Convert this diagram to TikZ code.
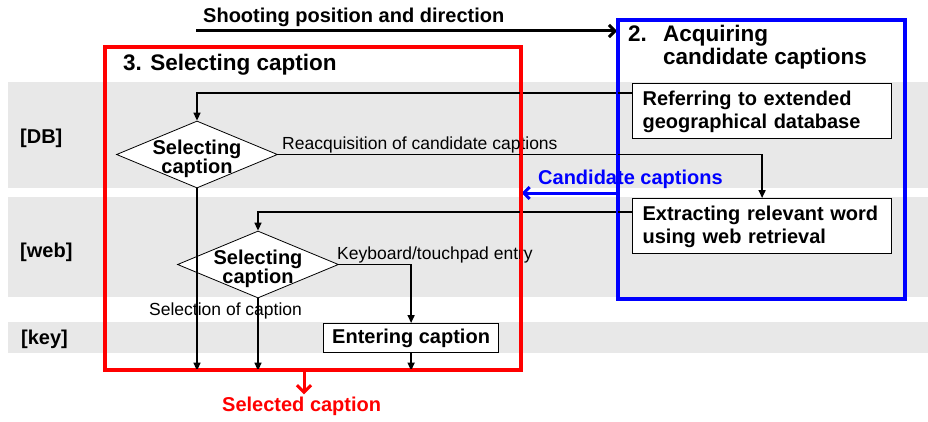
\documentclass[tikz,border=0pt]{standalone}
\usepackage{fontspec}
\setmainfont{Liberation Sans}
\usetikzlibrary{arrows.meta,shapes.geometric,calc}
\definecolor{band}{RGB}{232,232,232}
\tikzset{
  bold20/.style={font=\bfseries\fontsize{20}{23}\selectfont},
  reg/.style={font=\fontsize{17.5}{20}\selectfont, inner sep=0pt},
  procbox/.style={draw, fill=white, line width=1.2pt, bold20, text width=239pt, align=left, inner xsep=10pt, inner ysep=0pt, minimum height=55pt, anchor=north west},
  dia/.style={diamond, draw, fill=white, line width=0.8pt, minimum width=161pt, minimum height=67pt, inner sep=0pt},
  diatext/.style={font=\bfseries\fontsize{20}{19}\selectfont, align=center, inner sep=0pt, yshift=-4pt},
  conn/.style={line width=1.6pt, -{Triangle[length=8pt,width=7pt]}},
  bigarrow/.style={line width=3pt, -{Straight Barb[length=6pt,width=12pt]}},
  frame/.style={line width=2.6pt, anchor=north west, inner sep=0pt},
}
\begin{document}
\begin{tikzpicture}[x=1pt,y=-1pt]
\useasboundingbox (0,0) rectangle (928,422);
\fill[white] (0,0) rectangle (928,422);
% bands
\fill[band] (8,82) rectangle (928,188);
\fill[band] (8,197) rectangle (928,297);
\fill[band] (8,322) rectangle (928,353);
% row labels
\node[bold20, inner sep=0pt, anchor=base west] (lDB) at (20,144) {[DB]};
\node[bold20, inner sep=0pt, anchor=base west] (lweb) at (20,257) {[web]};
\node[bold20, inner sep=0pt, anchor=base west] (lkey) at (21,344) {[key]};
% frames
\node[frame, draw=red, minimum width=415pt, minimum height=322pt] (sel) at (104,46) {};
\node[frame, draw=blue, minimum width=286pt, minimum height=278pt] (acq) at (617,19) {};
% titles
\node[bold20, inner sep=0pt, anchor=base west] (shoot) at (203,23) {Shooting position and direction};
\node[font=\bfseries\fontsize{22.5}{24}\selectfont, inner sep=0pt, anchor=base west] (t3) at (123,71) {3. Selecting caption};
\node[font=\bfseries\fontsize{22.5}{23}\selectfont, inner sep=0pt, anchor=base west, align=left] (t2) at (628,65) {\makebox[35pt][l]{2.}Acquiring\\\hspace*{35pt}candidate captions};
% process boxes
\node[procbox] (ref) at (632,83) {\rule{0pt}{17pt}Referring to extended\\geographical database};
\node[procbox] (ext) at (632,198) {\rule{0pt}{17pt}Extracting relevant word\\using web retrieval};
\node[draw, fill=white, line width=1.2pt, bold20, minimum width=175pt, minimum height=29pt, inner sep=0pt, anchor=north west] (ent) at (323,323) {Entering caption};
% diamonds
\node[dia, label={[diatext]center:{Selecting\\caption}}] (d1) at (197,154.5) {};
\node[dia, label={[diatext]center:{Selecting\\caption}}] (d2) at (258,264.5) {};
% labels
\node[reg, anchor=base west] (lreacq) at (282,150) {Reacquisition of candidate captions};
\node[reg, anchor=base west] (lkeyb) at (337,259) {Keyboard/touchpad entry};
\node[reg, anchor=base west] (lselc) at (149,315) {Selection of caption};
\node[bold20, text=blue, inner sep=0pt, anchor=base west] (lcand) at (538,184) {Candidate captions};
\node[bold20, text=red, inner sep=0pt, anchor=base west] (selcap) at (222,411) {Selected caption};
% connectors
\draw[conn] ($(ref.north west)+(0,10)$) -| (d1.north);
\draw[conn] (d1.east) -| (ext.north);
\draw[conn] ($(ext.north west)+(0,14)$) -| (d2.north);
\draw[conn] (d2.east) -| (ent.north);
\draw[conn] (d1.south) -- (d1.south |- sel.south);
\draw[conn] (d2.south) -- (d2.south |- sel.south);
\draw[conn] (ent.south) -- (ent.south |- sel.south);
\coordinate (sh) at (196,31);
\draw[bigarrow] (sh) -- (sh -| acq.west);
\coordinate (cc) at ($(acq.north west)+(0,174)$);
\draw[bigarrow, blue] (cc) -- (cc -| sel.east);
\coordinate (rs) at ($(sel.south west)+(200,0)$);
\draw[line width=3pt, red, -{Straight Barb[length=7pt,width=14pt]}] (rs) -- ($(rs |- selcap.north)+(0,-2)$);
% redraw frame lines on top
\draw[red, line width=2.6pt] (sel.north west) rectangle (sel.south east);
\draw[blue, line width=2.6pt] (acq.north west) rectangle (acq.south east);
\end{tikzpicture}
\end{document}
